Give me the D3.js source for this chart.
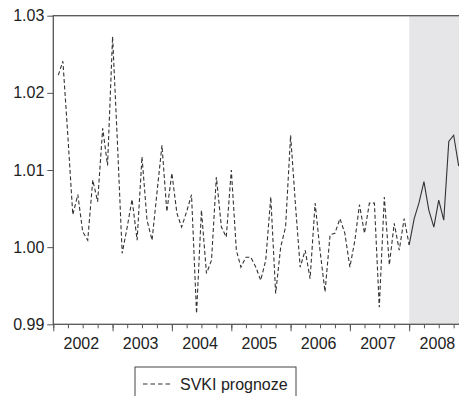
<!DOCTYPE html>
<html>
<head>
<meta charset="utf-8">
<script src="https://cdn.jsdelivr.net/npm/d3@7"></script>
<style>
  body { margin: 0; background: #fff; }
  svg { display: block; font-family: "Liberation Sans", Arial, sans-serif; }
</style>
</head>
<body>
<div id="chart"></div>
<script>
// monthly values, Feb 2002 .. Jan 2008 (dashed)
const histStart = [2002, 1]; // year, month index (0 = Jan)
const histValues = [
  1.0223, 1.0241, 1.0143, 1.0042, 1.0068, 1.0020, 1.0009, 1.0087, 1.0059, 1.0154, 1.0106,
  1.0273, 1.0130, 0.9992, 1.0026, 1.0062, 1.0009, 1.0117, 1.0035, 1.0009, 1.0070, 1.0132, 1.0046,
  1.0096, 1.0044, 1.0026, 1.0046, 1.0068, 0.9914, 1.0048, 0.9966, 0.9983, 1.0091, 1.0026, 1.0013,
  1.0100, 0.9996, 0.9974, 0.9987, 0.9987, 0.9974, 0.9957, 0.9983, 1.0065, 0.9940, 1.0000, 1.0026,
  1.0145, 1.0052, 0.9974, 0.9996, 0.9959, 1.0057, 0.9996, 0.9942, 1.0016, 1.0018, 1.0037, 1.0018,
  0.9974, 1.0009, 1.0055, 1.0018, 1.0057, 1.0057, 0.9922, 1.0065, 0.9977, 1.0031, 0.9996, 1.0037,
  1.0003
];
// forecast, Jan 2008 .. Nov 2008 (solid)
const fcStart = [2008, 0];
const fcValues = [1.0003, 1.0037, 1.0057, 1.0085, 1.0048, 1.0026, 1.0061, 1.0035, 1.0137, 1.0145, 1.0105];

const yTicks = [0.99, 1.00, 1.01, 1.02, 1.03];
const years = [2002, 2003, 2004, 2005, 2006, 2007, 2008];
const legendLabel = "SVKI prognoze";

const W = 459, H = 396;
const plotLeft = 53.3, plotTop = 15.7, plotBottom = 324.3;

const toSeries = (start, vals) => vals.map((v, i) => ({ date: new Date(start[0], start[1] + i, 1), value: v }));
const hist = toSeries(histStart, histValues);
const fc = toSeries(fcStart, fcValues);

const x = d3.scaleTime()
  .domain([new Date(2002, 0, 1), new Date(2009, 0, 1)])
  .range([plotLeft, plotLeft + 7 * 59.33]);
const y = d3.scaleLinear().domain([0.99, 1.03]).range([plotBottom, plotTop]);

const svg = d3.select('#chart').append('svg')
  .attr('width', W)
  .attr('height', H);

// shaded forecast period
svg.append('rect')
  .attr('x', x(new Date(2008, 0, 1)))
  .attr('y', plotTop)
  .attr('width', x(new Date(2009, 0, 1)) - x(new Date(2008, 0, 1)))
  .attr('height', plotBottom - plotTop)
  .attr('fill', '#e6e6e8');

// frame
svg.append('rect')
  .attr('x', plotLeft).attr('y', plotTop)
  .attr('width', x.range()[1] - plotLeft).attr('height', plotBottom - plotTop)
  .attr('fill', 'none').attr('stroke', '#555').attr('stroke-width', 1.3);

// y axis
const yAxis = svg.append('g')
  .attr('transform', `translate(${plotLeft},0)`)
  .call(d3.axisLeft(y).tickValues(yTicks).tickFormat(d3.format('.2f')).tickSize(6).tickPadding(3));
yAxis.select('.domain').remove();
yAxis.selectAll('line').attr('stroke', '#555');
yAxis.selectAll('text').attr('font-size', 16).attr('fill', '#222').attr('font-family', null);

// x axis: quarter ticks, year ticks, labels mid-year
const quarters = d3.timeMonth.every(3).range(new Date(2002, 0, 1), new Date(2009, 0, 2));
const xMinor = svg.append('g')
  .attr('transform', `translate(0,${plotBottom})`)
  .call(d3.axisBottom(x).tickValues(quarters).tickSize(4).tickFormat(''));
xMinor.select('.domain').remove();
xMinor.selectAll('line').attr('stroke', '#555');

const xMajor = svg.append('g')
  .attr('transform', `translate(0,${plotBottom})`)
  .call(d3.axisBottom(x).tickValues(years.map(yr => new Date(yr, 0, 1))).tickSize(7).tickFormat(''));
xMajor.select('.domain').remove();
xMajor.selectAll('line').attr('stroke', '#555');

const xLabels = svg.append('g')
  .attr('transform', `translate(-2,${plotBottom})`)
  .call(d3.axisBottom(x).tickValues(years.map(yr => new Date(yr, 6, 2))).tickSize(0).tickPadding(13)
    .tickFormat(d => d.getFullYear()));
xLabels.select('.domain').remove();
xLabels.selectAll('text').attr('font-size', 16).attr('fill', '#222').attr('font-family', null);

// lines
const line = d3.line().x(d => x(d.date)).y(d => y(d.value));

svg.append('path')
  .datum(hist)
  .attr('fill', 'none')
  .attr('stroke', '#333')
  .attr('stroke-width', 1.1)
  .attr('stroke-dasharray', '4,2.5')
  .attr('d', line);

svg.append('path')
  .datum(fc)
  .attr('fill', 'none')
  .attr('stroke', '#333')
  .attr('stroke-width', 1.1)
  .attr('d', line);

// legend
const lg = svg.append('g').attr('transform', 'translate(135,367)');
lg.append('rect')
  .attr('width', 161).attr('height', 40)
  .attr('fill', '#fff').attr('stroke', '#444').attr('stroke-width', 1);
lg.append('line')
  .attr('x1', 8).attr('x2', 37).attr('y1', 17).attr('y2', 17)
  .attr('stroke', '#333').attr('stroke-width', 1.1).attr('stroke-dasharray', '4.5,3');
lg.append('text')
  .attr('x', 45).attr('y', 22.5)
  .attr('font-size', 16).attr('fill', '#222')
  .text(legendLabel);
</script>
</body>
</html>
